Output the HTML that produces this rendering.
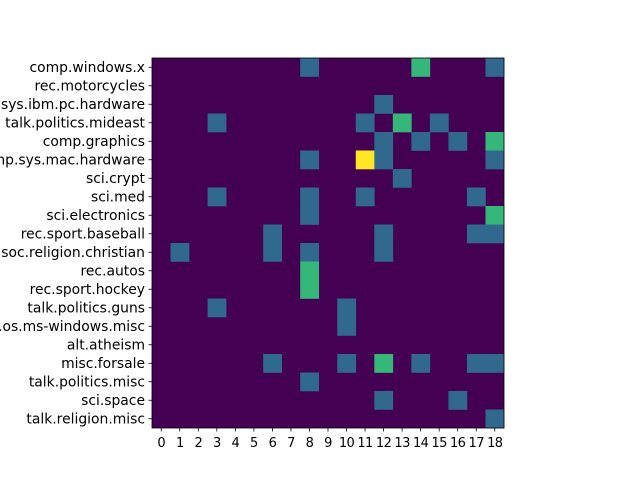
<!DOCTYPE html>
<html><head><meta charset="utf-8"><style>
html,body{margin:0;padding:0;background:#fff;width:640px;height:480px;overflow:hidden}
svg{display:block;font-family:"DejaVu Sans","Liberation Sans",sans-serif}
</style></head><body>
<svg id="chart" width="640" height="480" viewBox="0 0 640 480"></svg>
<script>
const rowLabels = ["comp.windows.x","rec.motorcycles","comp.sys.ibm.pc.hardware","talk.politics.mideast","comp.graphics","comp.sys.mac.hardware","sci.crypt","sci.med","sci.electronics","rec.sport.baseball","soc.religion.christian","rec.autos","rec.sport.hockey","talk.politics.guns","comp.os.ms-windows.misc","alt.atheism","misc.forsale","talk.politics.misc","sci.space","talk.religion.misc"];
const colLabels = ["0","1","2","3","4","5","6","7","8","9","10","11","12","13","14","15","16","17","18"];
// nonzero cells: [row, col, value]
const cells = [
[0,8,1],[0,14,2],[0,18,1],
[2,12,1],
[3,3,1],[3,11,1],[3,13,2],[3,15,1],
[4,12,1],[4,14,1],[4,16,1],[4,18,2],
[5,8,1],[5,11,3],[5,12,1],[5,18,1],
[6,13,1],
[7,3,1],[7,8,1],[7,11,1],[7,17,1],
[8,8,1],[8,18,2],
[9,6,1],[9,12,1],[9,17,1],[9,18,1],
[10,1,1],[10,6,1],[10,8,1],[10,12,1],
[11,8,2],[12,8,2],
[13,3,1],[13,10,1],
[14,10,1],
[16,6,1],[16,10,1],[16,12,2],[16,14,1],[16,17,1],[16,18,1],
[17,8,1],
[18,12,1],[18,16,1],
[19,18,1]
];
const NS="http://www.w3.org/2000/svg";
const svg=document.getElementById('chart');
const X0=152,X1=504,Y0=58,Y1=428;
const cw=(X1-X0)/colLabels.length, ch=(Y1-Y0)/rowLabels.length;
const xs=c=>X0+c*cw, ys=r=>Y0+r*ch;
const vmax=Math.max(...cells.map(c=>c[2]));
const stops=[[0,[68,1,84]],[0.333,[49,104,142]],[0.667,[53,183,121]],[1,[253,231,37]]];
function cmap(t){for(let i=1;i<stops.length;i++){if(t<=stops[i][0]){const a=stops[i-1],b=stops[i];const f=(t-a[0])/(b[0]-a[0]);const c=a[1].map((v,k)=>Math.round(v+(b[1][k]-v)*f));return `rgb(${c.join(',')})`;}}return 'rgb(253,231,37)';}
function mk(tag,attrs){const e=document.createElementNS(NS,tag);for(const k in attrs)e.setAttribute(k,attrs[k]);svg.appendChild(e);return e;}
const bg=mk('rect',{x:X0,y:Y0,width:X1-X0,height:Y1-Y0,fill:cmap(0)});


cells.forEach(([r,c,v])=>{
  const e=mk('rect',{x:xs(c),y:ys(r),width:cw+0.3,height:ch+0.3,fill:cmap(v/vmax)});
  
  
});
const fr=mk('rect',{x:X0,y:Y0,width:X1-X0,height:Y1-Y0,fill:'none',stroke:'#000','stroke-width':0.8});


rowLabels.forEach((l,i)=>{
  const y=ys(i)+ch/2;
  mk('line',{x1:X0,x2:X0-3.5,y1:y,y2:y,stroke:'#000','stroke-width':0.8});
  const t=mk('text',{x:X0-7,y:y+4.8,'text-anchor':'end','font-size':'13.9px',fill:'#000'});
  t.textContent=l;
  
  
});
colLabels.forEach((l,i)=>{
  const x=xs(i)+cw/2;
  mk('line',{x1:x,x2:x,y1:Y1,y2:Y1+3.5,stroke:'#000','stroke-width':0.8});
  const t=mk('text',{x:x,y:Y1+19,'text-anchor':'middle','font-size':'13px','letter-spacing':'-0.6px',fill:'#000'});
  t.textContent=l;
  
  
});
</script>
</body></html>
